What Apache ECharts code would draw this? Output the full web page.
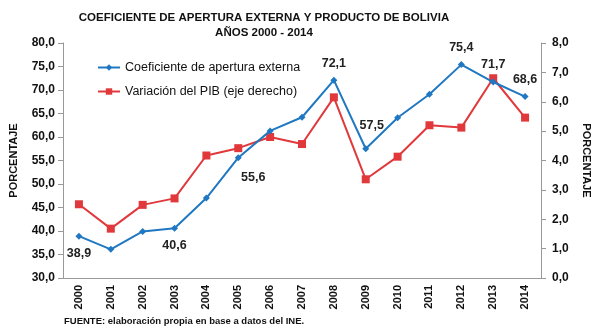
<!DOCTYPE html>
<html><head><meta charset="utf-8">
<script src="https://cdn.jsdelivr.net/npm/echarts@6/dist/echarts.min.js"></script>
<style>html,body{margin:0;padding:0;background:#fff}#c{width:600px;height:330px}</style>
</head><body><div id="c"></div>
<script>
var years = ['2000','2001','2002','2003','2004','2005','2006','2007','2008','2009','2010','2011','2012','2013','2014'];
var apertura = [38.9,36.1,39.9,40.6,47.0,55.6,61.3,64.2,72.1,57.5,64.1,69.1,75.4,71.7,68.6];
var pib = [2.51,1.68,2.49,2.71,4.17,4.42,4.80,4.56,6.15,3.36,4.13,5.20,5.12,6.80,5.46];
var leftTicks = {min:30, max:80, step:5};
var rightTicks = {min:0, max:8, step:1};
var labelled = [0,3,5,8,9,12,13,14];

var FONT = 'Liberation Sans';
var labelPos = {0:{position:'bottom',offset:[0,2]},3:{position:'bottom',offset:[0,2]},5:{position:'bottom',offset:[15,5]},
  8:{position:'top',offset:[0,-2]},9:{position:'top',offset:[6,-8]},12:{position:'top',offset:[0,-2]},13:{position:'top',offset:[0,-2]},14:{position:'top',offset:[0,-2]}};
var blueData = apertura.map(function(v,i){
  var d = {value:v};
  if (labelled.indexOf(i) >= 0) {
    d.label = Object.assign({show:true, formatter:function(p){return p.value.toFixed(1).replace('.',',');},
      color:'#222', fontFamily:FONT, fontSize:12.5, fontWeight:'bold'}, labelPos[i]);
  }
  return d;
});
var fmt = function(v){return v.toFixed(1).replace('.',',');};
var chart = echarts.init(document.getElementById('c'));
chart.setOption({
  animation:false,
  title:{text:'COEFICIENTE DE APERTURA EXTERNA Y PRODUCTO DE BOLIVIA\nAÑOS 2000 - 2014', left:259, top:5, textAlign:'center',
    textStyle:{fontFamily:FONT, fontSize:11.5, fontWeight:'bold', color:'#111', lineHeight:15}},
  legend:{orient:'vertical', left:92, top:56, itemGap:11, itemWidth:22, itemHeight:8,
    textStyle:{fontFamily:FONT, fontSize:12.5, color:'#111'},
    data:['Coeficiente de apertura externa','Variación del PIB (eje derecho)']},
  grid:{left:61, right:57, top:43, bottom:52},
  xAxis:{type:'category', data:years, boundaryGap:true,
    axisLine:{lineStyle:{color:'#999'}}, axisTick:{length:5, lineStyle:{color:'#999'}},
    axisLabel:{rotate:90, fontFamily:FONT, fontSize:11, fontWeight:'bold', color:'#111', margin:7}},
  yAxis:[
    {type:'value', min:leftTicks.min, max:leftTicks.max, interval:leftTicks.step, splitLine:{show:false},
     axisLine:{show:true, lineStyle:{color:'#999'}}, axisTick:{show:true, length:5, lineStyle:{color:'#999'}},
     axisLabel:{formatter:fmt, fontFamily:FONT, fontSize:12, fontWeight:'bold', color:'#111', margin:8},
     name:'PORCENTAJE', nameLocation:'middle', nameGap:44, nameRotate:90,
     nameTextStyle:{fontFamily:FONT, fontSize:11, fontWeight:'bold', color:'#111'}},
    {type:'value', position:'right', min:rightTicks.min, max:rightTicks.max, interval:rightTicks.step, splitLine:{show:false},
     axisLine:{show:true, lineStyle:{color:'#999'}}, axisTick:{show:true, length:5, lineStyle:{color:'#999'}},
     axisLabel:{formatter:fmt, fontFamily:FONT, fontSize:12, fontWeight:'bold', color:'#111', margin:11},
     name:'PORCENTAJE', nameLocation:'middle', nameGap:40, nameRotate:-90,
     nameTextStyle:{fontFamily:FONT, fontSize:11, fontWeight:'bold', color:'#111'}}
  ],
  series:[
    {name:'Coeficiente de apertura externa', type:'line', yAxisIndex:0, data:blueData,
     symbol:'diamond', symbolSize:7, itemStyle:{color:'#1F78C1'}, lineStyle:{color:'#1F78C1', width:2}},
    {name:'Variación del PIB (eje derecho)', type:'line', yAxisIndex:1, data:pib, z:1,
     symbol:'rect', symbolSize:8, itemStyle:{color:'#E0383B'}, lineStyle:{color:'#E0383B', width:2}}
  ],
  graphic:[{type:'text', left:64, top:316, style:{text:'FUENTE: elaboración propia en base a datos del INE.',
    font:'bold 9.5px "Liberation Sans"', fill:'#111'}}]
});
</script></body></html>
